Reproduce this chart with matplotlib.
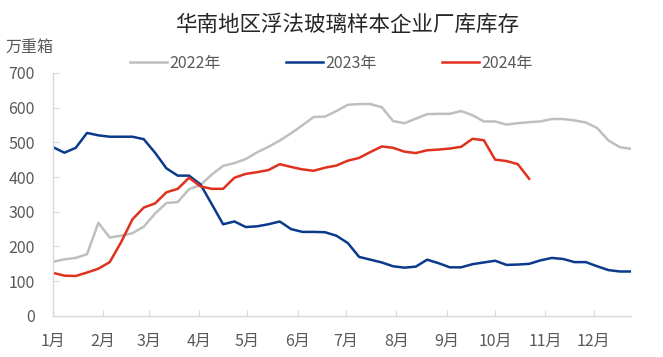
import numpy as np
import matplotlib
matplotlib.use("Agg")
import matplotlib.pyplot as plt

# 中文字体 + 回退字体
plt.rcParams["font.family"] = ["Noto Sans CJK SC", "DejaVu Sans"]
plt.rcParams["axes.unicode_minus"] = False

# 周度数据 (单位: 万重箱), x 为一年中的第几天
days = np.arange(0, 358, 7)

inv_2022 = [156, 163, 167, 178, 268, 226, 231, 238, 257, 295, 325, 328, 365, 377,
            407, 432, 440, 452, 471, 487, 505, 526, 549, 573, 574, 590, 608, 610,
            610, 601, 561, 555, 568, 581, 582, 582, 590, 578, 560, 560, 551, 555,
            558, 560, 567, 567, 563, 557, 541, 505, 486, 481]
inv_2023 = [486, 470, 484, 527, 520, 516, 516, 516, 509, 470, 425, 404, 404, 379,
            322, 264, 272, 256, 258, 264, 272, 250, 242, 242, 241, 231, 210, 170,
            162, 154, 143, 139, 142, 162, 152, 140, 140, 149, 154, 159, 147, 148,
            150, 160, 167, 164, 155, 155, 143, 132, 128, 128]
inv_2024 = [124, 116, 115, 125, 136, 155, 212, 278, 312, 324, 356, 366, 398, 373,
            366, 366, 398, 409, 414, 420, 437, 429, 422, 418, 427, 433, 447, 455,
            472, 488, 484, 473, 469, 477, 479, 482, 487, 510, 506, 450, 446, 437, 395]

month_days = [0, 31, 59, 90, 120, 151, 181, 212, 243, 273, 304, 334]
month_labels = ["1月", "2月", "3月", "4月", "5月", "6月", "7月", "8月", "9月", "10月", "11月", "12月"]

fig = plt.figure(figsize=(6.63, 3.57), dpi=100)
ax = fig.add_axes([0.080, 0.115, 0.872, 0.681])

ax.plot(days, inv_2022, color="#bfbfbf", lw=1.8, label="2022年")
ax.plot(days, inv_2023, color="#0b3a8c", lw=1.8, label="2023年")
ax.plot(days[:len(inv_2024)], inv_2024, color="#e0301e", lw=1.8, label="2024年")

ax.set_xlim(0, days[-1])
ax.set_ylim(0, 700)
ax.set_yticks(range(0, 701, 100))
ax.set_xticks(month_days)
ax.set_xticklabels(month_labels)

for s in ["top", "right"]:
    ax.spines[s].set_visible(False)
for s in ["left", "bottom"]:
    ax.spines[s].set_color("#d9d9d9")
    ax.spines[s].set_linewidth(1.0)

ax.tick_params(axis="both", direction="in", length=4, color="#d9d9d9",
               labelcolor="#595959", labelsize=11.5)
ax.tick_params(axis="y", pad=13)
ax.tick_params(axis="x", pad=12)

fig.text(0.523, 0.930, "华南地区浮法玻璃样本企业厂库库存", ha="center", va="center",
         fontsize=15.5, color="#262626")
fig.text(0.044, 0.866, "万重箱", ha="center", va="center", fontsize=11.5, color="#595959")

ax.legend(loc="center", bbox_to_anchor=(0.50, 0.823), bbox_transform=fig.transFigure,
          ncol=3, frameon=False, fontsize=11.5, labelcolor="#595959",
          handlelength=2.3, handletextpad=0.15, columnspacing=4.1)

plt.savefig("out.png", dpi=100)
